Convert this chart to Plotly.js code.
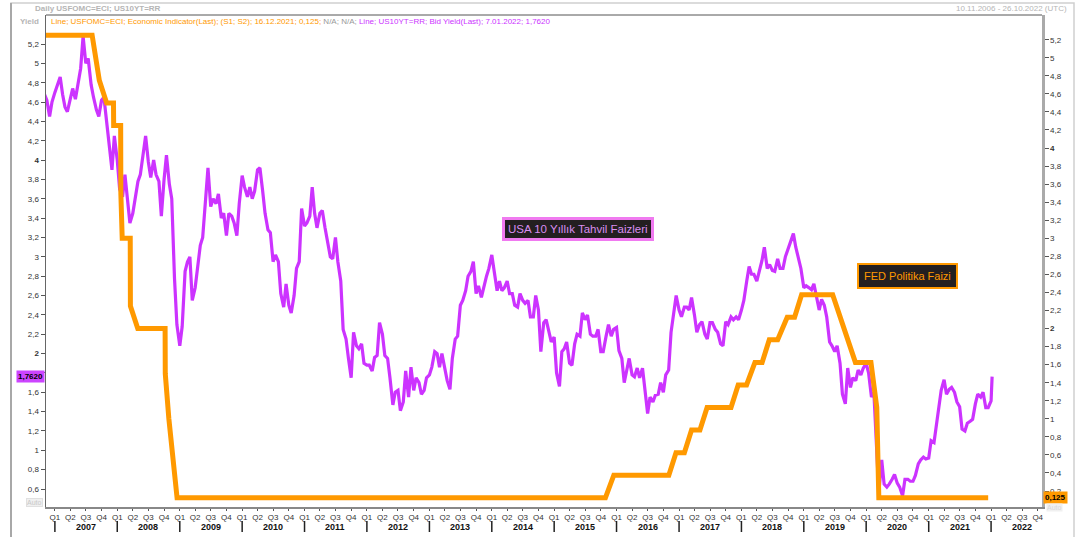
<!DOCTYPE html>
<html><head><meta charset="utf-8">
<script src="https://cdn.plot.ly/plotly-3.0.1.min.js"></script>
<style>html,body{margin:0;padding:0;background:#fff;} #chart{width:1085px;height:537px;}</style>
</head><body><div id="chart"></div>
<script>
// ---------- DATA ----------
// FED policy rate (right axis)
const fedDates = ['2006-11-10','2007-08-07','2007-09-18','2007-10-31','2007-12-10','2007-12-11','2008-01-21','2008-01-22','2008-01-30','2008-03-17','2008-03-18','2008-04-30','2008-10-07','2008-10-08','2008-10-29','2008-12-16',
  '2015-10-28','2015-12-16','2016-11-02','2016-12-14','2017-02-01','2017-03-15','2017-05-03','2017-06-14','2017-11-01','2017-12-13','2018-01-31','2018-03-21','2018-05-02','2018-06-13','2018-08-01','2018-09-26','2018-11-08','2018-12-19',
  '2019-06-19','2019-07-31','2019-09-18','2019-10-30','2020-01-29','2020-03-03','2020-03-15','2021-12-15'];
const fedRates = [5.25,5.25,4.75,4.5,4.5,4.25,4.25,3.5,3.0,3.0,2.25,2.0,2.0,1.5,1.0,0.125,
  0.125,0.375,0.375,0.625,0.625,0.875,0.875,1.125,1.125,1.375,1.375,1.625,1.625,1.875,1.875,2.125,2.125,2.375,
  2.375,2.125,1.875,1.625,1.625,1.125,0.125,0.125];

// US 10Y yield (left axis), values on the 1st and 15th of each month
const yld2006 = [4.68,4.62,4.45,4.60]; // from November
const yld2007 = [4.70,4.78,4.86,4.68,4.55,4.50,4.65,4.74,4.63,4.80,4.95,5.28,5.00,5.05,4.78,4.65,4.52,4.45,4.62,4.65,4.40,4.18,3.90,4.25];
const yld2008 = [4.00,3.70,3.62,3.85,3.55,3.35,3.45,3.62,3.78,3.85,4.05,4.25,3.98,3.82,4.00,3.85,3.78,3.42,3.80,4.05,3.75,3.60,2.78,2.30];
const yld2009 = [2.08,2.28,2.85,2.95,3.00,2.55,2.68,2.90,3.12,3.20,3.55,3.92,3.52,3.60,3.55,3.65,3.40,3.45,3.22,3.45,3.42,3.35,3.22,3.55];
const yld2010 = [3.84,3.72,3.62,3.72,3.60,3.68,3.90,3.92,3.68,3.45,3.28,3.25,2.95,3.02,2.95,2.62,2.48,2.72,2.50,2.42,2.60,2.88,2.95,3.50];
const yld2011 = [3.32,3.35,3.42,3.72,3.45,3.30,3.45,3.48,3.30,3.15,3.00,2.98,3.20,2.95,2.75,2.25,2.15,1.95,1.75,2.22,2.08,2.05,2.10,1.90];
const yld2012 = [1.88,1.88,1.82,1.96,1.98,2.32,2.20,1.98,1.95,1.75,1.47,1.60,1.62,1.41,1.50,1.82,1.55,1.86,1.62,1.75,1.70,1.58,1.62,1.75];
const yld2013 = [1.78,1.86,2.02,2.00,1.86,2.00,1.85,1.72,1.63,1.95,2.15,2.18,2.50,2.55,2.65,2.80,2.85,2.95,2.62,2.70,2.58,2.70,2.80,2.88];
const yld2014 = [3.02,2.85,2.65,2.75,2.65,2.68,2.75,2.62,2.62,2.50,2.48,2.62,2.55,2.52,2.55,2.38,2.38,2.60,2.45,2.02,2.32,2.35,2.22,2.12];
const yld2015 = [2.17,1.80,1.66,2.02,2.05,2.12,1.90,1.88,2.10,2.20,2.18,2.42,2.35,2.40,2.20,2.18,2.18,2.25,2.02,2.02,2.18,2.30,2.18,2.25];
const yld2016 = [2.27,2.03,1.95,1.70,1.83,1.95,1.78,1.76,1.85,1.75,1.85,1.60,1.38,1.55,1.50,1.57,1.58,1.70,1.60,1.78,1.83,2.22,2.40,2.60];
const yld2017 = [2.45,2.38,2.48,2.48,2.45,2.58,2.40,2.22,2.30,2.33,2.20,2.15,2.32,2.32,2.25,2.22,2.10,2.08,2.33,2.30,2.38,2.35,2.38,2.35];
const yld2018 = [2.45,2.55,2.75,2.90,2.82,2.82,2.75,2.85,2.96,3.10,2.88,2.92,2.86,2.85,2.98,2.88,2.88,3.00,3.08,3.16,3.24,3.10,2.98,2.88];
const yld2019 = [2.68,2.70,2.68,2.66,2.72,2.60,2.45,2.56,2.50,2.38,2.12,2.08,2.02,2.08,1.90,1.58,1.48,1.85,1.65,1.75,1.72,1.83,1.78,1.85];
const yld2020 = [1.90,1.80,1.55,1.60,1.10,0.56,0.90,0.65,0.62,0.65,0.70,0.75,0.66,0.62,0.53,0.70,0.70,0.68,0.68,0.74,0.86,0.90,0.93,0.91];
const yld2021 = [0.92,1.10,1.08,1.25,1.42,1.62,1.73,1.58,1.63,1.65,1.60,1.50,1.45,1.22,1.20,1.28,1.30,1.32,1.48,1.58,1.55,1.60,1.44,1.44];
const yld2022 = [1.51]; // January 1st
const lastYieldDate = '2022-01-07';
const lastYield = 1.762;

// axis ticks and labels
const quarterLabels = ['Q1','Q2','Q3','Q4'];
const yearLabels = ['2007','2008','2009','2010','2011','2012','2013','2014','2015','2016','2017','2018','2019','2020','2021','2022'];
const leftTickVals = [0.6,0.8,1,1.2,1.4,1.6,1.8,2,2.2,2.4,2.6,2.8,3,3.2,3.4,3.6,3.8,4,4.2,4.4,4.6,4.8,5,5.2];
const leftTickText = ['0,6','0,8','1','1,2','1,4','1,6','1,8','<b>2</b>','2,2','2,4','2,6','2,8','3','3,2','3,4','3,6','3,8','<b>4</b>','4,2','4,4','4,6','4,8','5','5,2'];
const rightTickVals = [0.2,0.4,0.6,0.8,1,1.2,1.4,1.6,1.8,2,2.2,2.4,2.6,2.8,3,3.2,3.4,3.6,3.8,4,4.2,4.4,4.6,4.8,5,5.2];
const rightTickText = ['0,2','0,4','0,6','0,8','1','1,2','1,4','1,6','1,8','<b>2</b>','2,2','2,4','2,6','2,8','3','3,2','3,4','3,6','3,8','<b>4</b>','4,2','4,4','4,6','4,8','5','5,2'];

// ---------- BUILD ----------
function pad(n){return (n<10?'0':'')+n;}
const yieldBlocks = [[2006,11,yld2006],[2007,1,yld2007],[2008,1,yld2008],[2009,1,yld2009],[2010,1,yld2010],[2011,1,yld2011],[2012,1,yld2012],[2013,1,yld2013],[2014,1,yld2014],[2015,1,yld2015],[2016,1,yld2016],[2017,1,yld2017],[2018,1,yld2018],[2019,1,yld2019],[2020,1,yld2020],[2021,1,yld2021],[2022,1,yld2022]];
const yX=[], yY=[];
yieldBlocks.forEach(([yr,m0,vals])=>{
  vals.forEach((v,i)=>{
    const m = m0 + Math.floor(i/2);
    yX.push(yr+'-'+pad(m)+'-'+(i%2?'15':'01'));
    yY.push(v);
  });
});
yX.push(lastYieldDate); yY.push(lastYield);

const qVals=[], qText=[];
yearLabels.forEach(y=>{ quarterLabels.forEach((q,i)=>{ qVals.push(y+'-'+pad(1+3*i)+'-01'); qText.push(q); }); });

const FONT = 'Liberation Sans, Arial, sans-serif';
const L=46, R=1042, T=15, B=507;
const px = x => (x-L)/(R-L);
const py = y => (B-y)/(B-T);

const shapes = [];
const annotations = [];
yearLabels.forEach(y=>{
  shapes.push({type:'line',xref:'x',yref:'paper',x0:y+'-01-01',x1:y+'-01-01',y0:py(521),y1:py(532),line:{color:'#222',width:1.5}});
  annotations.push({xref:'x',yref:'paper',x:y+'-07-01',y:py(527),text:'<b>'+y+'</b>',showarrow:false,font:{family:FONT,size:9,color:'#111'},xanchor:'center',yanchor:'middle'});
});
// frames
shapes.push({type:'rect',xref:'paper',yref:'paper',x0:px(11),x1:px(1074),y0:py(540),y1:py(3),line:{color:'#cfcfcf',width:1.5},layer:'below'});
shapes.push({type:'line',xref:'paper',yref:'paper',x0:px(11),x1:px(11),y0:py(540),y1:py(3),line:{color:'#a8a8a8',width:2}});
shapes.push({type:'line',xref:'paper',yref:'paper',x0:0,x1:1,y0:1,y1:1,line:{color:'#555',width:1}});

// header texts
annotations.push({xref:'paper',yref:'paper',x:px(33),y:py(9),xanchor:'left',yanchor:'middle',showarrow:false,text:'<b>Daily USFOMC=ECI; US10YT=RR</b>',font:{family:FONT,size:8,color:'#b5b5b5'}});
annotations.push({xref:'paper',yref:'paper',x:px(1069),y:py(9),xanchor:'right',yanchor:'middle',showarrow:false,text:'10.11.2006 - 26.10.2022 (UTC)',font:{family:FONT,size:8,color:'#b5b5b5'}});
annotations.push({xref:'paper',yref:'paper',x:px(41),y:py(21),xanchor:'right',yanchor:'middle',showarrow:false,text:'<b>Yield</b>',font:{family:FONT,size:8,color:'#b5b5b5'}});
annotations.push({xref:'paper',yref:'paper',x:px(49),y:py(21),xanchor:'left',yanchor:'middle',showarrow:false,
  text:'<span style="color:#ff9900">Line; USFOMC=ECI; Economic Indicator(Last); (S1; S2); 16.12.2021; 0,125; </span><span style="color:#999">N/A; N/A; </span><span style="color:#cc33ff">Line; US10YT=RR; Bid Yield(Last); 7.01.2022; 1,7620</span>',
  font:{family:FONT,size:8,color:'#ff9900'}});
// last value markers
annotations.push({xref:'paper',yref:'y',x:px(45),y:lastYield,xanchor:'right',yanchor:'middle',showarrow:false,text:'<b>1,7620</b>',bgcolor:'#cc44ff',borderpad:1,font:{family:FONT,size:8,color:'#000'}});
annotations.push({xref:'paper',yref:'y2',x:px(1043),y:fedRates[fedRates.length-1],xanchor:'left',yanchor:'middle',showarrow:false,text:'<b>0,125</b>',bgcolor:'#ff9900',borderpad:1,font:{family:FONT,size:8,color:'#000'}});
// Auto labels
annotations.push({xref:'paper',yref:'paper',x:px(43),y:py(502),xanchor:'right',yanchor:'middle',showarrow:false,text:'Auto',bgcolor:'#f0f0f0',bordercolor:'#e0e0e0',borderwidth:1,borderpad:0,font:{family:FONT,size:7,color:'#c8c8c8'}});
annotations.push({xref:'paper',yref:'paper',x:px(1046),y:py(508),xanchor:'left',yanchor:'middle',showarrow:false,text:'Auto',bgcolor:'#f0f0f0',borderpad:0,font:{family:FONT,size:7,color:'#d8d8d8'}});
// callout boxes
annotations.push({xref:'paper',yref:'paper',x:px(578),y:py(229),xanchor:'center',yanchor:'middle',showarrow:false,text:'USA 10 Yıllık Tahvil Faizleri',bgcolor:'#231f20',bordercolor:'#f07af0',borderwidth:3,borderpad:3,font:{family:FONT,size:11.5,color:'#d98ef0'}});
annotations.push({xref:'paper',yref:'paper',x:px(907),y:py(276),xanchor:'center',yanchor:'middle',showarrow:false,text:'FED Politika Faizi',bgcolor:'#231f20',bordercolor:'#ff9900',borderwidth:2,borderpad:5,font:{family:FONT,size:11,color:'#ff9900'}});

const traces = [
  {type:'scatter',mode:'lines',x:fedDates,y:fedRates,yaxis:'y2',line:{color:'#ff9900',width:5},hoverinfo:'skip'},
  {type:'scatter',mode:'lines',x:yX,y:yY,yaxis:'y',line:{color:'#cc33ff',width:3.2},hoverinfo:'skip'}
];

const layout = {
  width:1085,height:537,
  margin:{l:L,r:1085-R,t:T,b:537-B,pad:0},
  paper_bgcolor:'#fff',plot_bgcolor:'#fff',
  showlegend:false,
  font:{family:FONT,size:8,color:'#333'},
  xaxis:{type:'date',range:['2006-11-10','2022-10-26'],tickmode:'array',tickvals:qVals,ticktext:qText,
    ticks:'outside',ticklen:2,tickcolor:'#555',tickfont:{family:FONT,size:8,color:'#333'},
    showgrid:false,zeroline:false,showline:true,linecolor:'#888',linewidth:1.5},
  yaxis:{range:[0.414,5.5],tickmode:'array',tickvals:leftTickVals,ticktext:leftTickText,
    ticks:'outside',ticklen:4,tickcolor:'#555',tickfont:{family:FONT,size:8,color:'#333'},
    showgrid:false,zeroline:false,showline:true,linecolor:'#666',linewidth:1.5},
  yaxis2:{range:[0.023,5.474],overlaying:'y',side:'right',tickmode:'array',tickvals:rightTickVals,ticktext:rightTickText,
    ticks:'outside',ticklen:4,tickcolor:'#555',tickfont:{family:FONT,size:8,color:'#333'},
    showgrid:false,zeroline:false,showline:true,linecolor:'#aaa',linewidth:2.5},
  shapes:shapes,annotations:annotations
};
Plotly.newPlot('chart',traces,layout,{staticPlot:true,displayModeBar:false});
</script></body></html>
